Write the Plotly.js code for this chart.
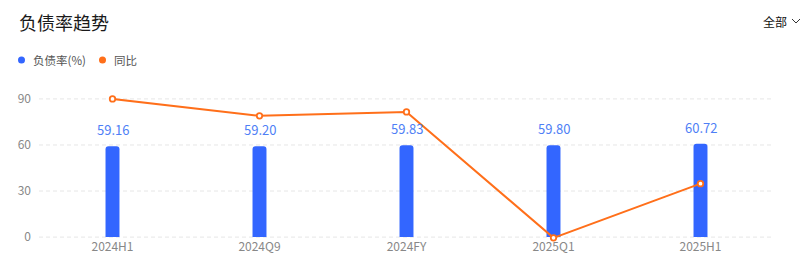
<!DOCTYPE html>
<html><head><meta charset="utf-8">
<script src="https://cdn.plot.ly/plotly-3.0.1.min.js"></script>
<style>html,body{margin:0;padding:0;background:#fff;}#chart{width:807px;height:275px;}</style>
</head><body><div id="chart"></div>
<script>
const categories = ["2024H1","2024Q9","2024FY","2025Q1","2025H1"];
const debtRatio = [59.16, 59.20, 59.83, 59.80, 60.72];
const yoy = [90, 79, 81.5, -0.5, 34.8];
const yTicks = [0, 30, 60, 90];

const FONT = '"Noto Sans CJK SC", "Noto Sans", sans-serif';
const BLUE = '#3366FF', ORANGE = '#FF6F1A';

const traces = [
  {type:'bar', x:categories, y:debtRatio, width:0.095, name:'负债率(%)',
   marker:{color:BLUE, cornerradius:3}, hoverinfo:'none', cliponaxis:false},
  {type:'scatter', mode:'lines+markers', x:categories, y:yoy, name:'同比',
   line:{color:ORANGE, width:2}, marker:{size:5.5, color:'#fff', line:{color:ORANGE, width:1.8}},
   cliponaxis:false, hoverinfo:'none'}
];

const annotations = categories.map((c,i)=>({x:c, y:debtRatio[i], xref:'x', yref:'y',
  text:debtRatio[i].toFixed(2), showarrow:false, yanchor:'bottom', yshift:5,
  font:{family:FONT, size:13, color:'#4F7FF6'}}));
annotations.push(
  {xref:'paper', yref:'paper', x:0, y:1, xanchor:'left', yanchor:'middle', text:'负债率趋势', showarrow:false,
   font:{family:FONT, size:18, color:'#1a1a1a'}},
  {xref:'paper', yref:'paper', x:0, y:0, xanchor:'left', yanchor:'middle', text:'负债率(%)', showarrow:false,
   font:{family:FONT, size:11.5, color:'#555'}},
  {xref:'paper', yref:'paper', x:0, y:0, xanchor:'left', yanchor:'middle', text:'同比', showarrow:false,
   font:{family:FONT, size:11.5, color:'#555'}},
  {xref:'paper', yref:'paper', x:0, y:0, xanchor:'right', yanchor:'middle', text:'全部', showarrow:false,
   font:{family:FONT, size:12, color:'#111'}}
);

const W=807, H=275, ML=39, MR=33, MT=98, MB=37;
const pw=W-ML-MR, ph=H-MT-MB;
function px(x){return (x-ML)/pw;} function py(y){return (H-MB-y)/ph;}
const n=categories.length;
annotations[n].x=px(17); annotations[n].y=py(22);
annotations[n+1].x=px(31); annotations[n+1].y=py(60);
annotations[n+2].x=px(112); annotations[n+2].y=py(60);
annotations[n+3].x=px(789); annotations[n+3].y=py(21);

const shapes = [
  {type:'circle', xref:'paper', yref:'paper', x0:px(18), x1:px(25), y0:py(63.5), y1:py(56.5), fillcolor:BLUE, line:{width:0}},
  {type:'circle', xref:'paper', yref:'paper', x0:px(99), x1:px(106), y0:py(63.5), y1:py(56.5), fillcolor:ORANGE, line:{width:0}},
  {type:'path', xref:'paper', yref:'paper', path:`M ${px(792)} ${py(19)} L ${px(796)} ${py(23)} L ${px(800)} ${py(19)}`, line:{color:'#333', width:1}}
];
yTicks.forEach(v => shapes.push({type:'line', layer:'below', xref:'paper', yref:'y', x0:0, x1:1, y0:v, y1:v,
  line:{color:'#e6e6e6', width:1, dash:'4px,3px'}}));

const layout = {
  width:W, height:H, margin:{l:ML, r:MR, t:MT, b:MB}, showlegend:false,
  paper_bgcolor:'#fff', plot_bgcolor:'#fff', font:{family:FONT},
  xaxis:{type:'category', showgrid:false, zeroline:false, showline:false, ticks:'',
    tickfont:{family:FONT, size:12, color:'#888'}, fixedrange:true},
  yaxis:{range:[-0.6,90.6], tickvals:yTicks, showgrid:false,
    zeroline:false, showline:false, ticks:'', ticklen:0, ticklabelstandoff:7,
    tickfont:{family:FONT, size:12, color:'#888'}, fixedrange:true},
  annotations, shapes
};
Plotly.newPlot('chart', traces, layout, {displayModeBar:false, staticPlot:true});
</script></body></html>
